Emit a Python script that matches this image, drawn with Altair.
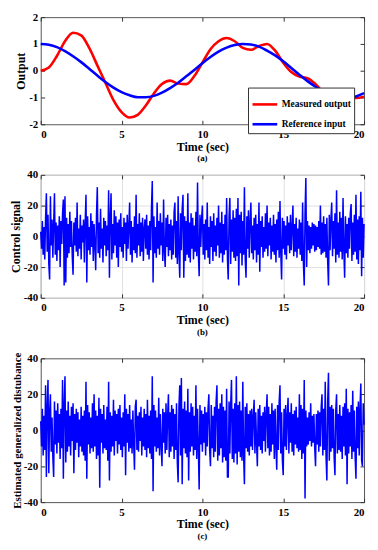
import altair as alt
import pandas as pd

FONT = "Liberation Serif"

# ---------------- Panel (a) data ----------------
time_a = [i * 0.5 for i in range(41)]
measured_output = [0.0, 0.12, 0.55, 1.1, 1.42, 1.32, 0.85, 0.2, -0.45, -1.1,
                   -1.55, -1.75, -1.65, -1.3, -0.85, -0.5, -0.37, -0.48, -0.5, -0.2,
                   0.3, 0.8, 1.1, 1.22, 1.1, 0.85, 0.78, 0.92, 1.0, 0.75,
                   0.3, -0.05, -0.22, -0.28, -0.5, -0.82, -0.95, -0.95, -0.98, -1.02,
                   -0.97]
reference_input = [1.0, 0.97, 0.88, 0.73, 0.54, 0.32, 0.07, -0.18, -0.42, -0.63,
                   -0.80, -0.92, -0.99, -0.99, -0.94, -0.82, -0.65, -0.45, -0.21, 0.03,
                   0.28, 0.51, 0.71, 0.86, 0.96, 1.0, 0.98, 0.90, 0.75, 0.57,
                   0.35, 0.10, -0.15, -0.39, -0.60, -0.78, -0.91, -0.98, -1.0, -0.96,
                   -0.84]
series_names = ["Measured output", "Reference input"]
series_colors = ["#ff0000", "#0000ff"]

# ---------------- Panels (b), (c) data ----------------
time_n = [round(i * 0.05, 2) for i in range(401)]
control_signal = [
    3, -8, 10, -12, 6, -15, 12, 28, -10, 14, -18, -28, 26, -6, 11, -14, 8, 28, -12, 9,
    -16, 7, -9, 13, -20, 10, -5, 15, 24, -32, 26, -30, 12, -14, 8, -11, 16, -7, 10, -13,
    -25, 9, -6, 12, -10, 22, -13, 5, -8, 14, -15, 7, -4, 11, -17, 9, 27, -30, 13, -9,
    6, -12, 15, -7, 10, -16, 8, -5, -22, 14, 32, -11, 9, -14, 18, -8, 5, -17, 12, -6,
    10, -13, 7, -9, 30, -27, 12, 28, -15, 8, -11, 17, -6, 13, -14, 9, -20, 11, -7, 15,
    -10, 6, -14, 12, -5, 9, -16, 14, -8, 7, 22, -12, 10, -17, 6, -9, 13, -11, 27, -14,
    8, -6, 15, -13, 9, -10, 12, -16, 5, 11, -8, 14, -12, 7, -15, 10, -9, 18, 36, -30,
    13, -11, 6, -14, 22, -8, 10, -12, 15, -6, 9, -16, 24, -10, -20, 12, -7, 14, -13, 8,
    -9, 11, -15, 7, -12, 16, 22, -14, 10, -18, 26, -11, -27, 15, -9, 18, 27, -27, 13, -16,
    10, -12, 28, -14, 9, -17, 15, -8, 12, -15, 7, -10, 16, -13, 35, -11, -26, 14, -7, 11,
    20, -12, 8, -15, 11, -9, 22, -14, 6, -18, 13, -7, 10, -16, 15, -10, 7, -13, 12, -6,
    20, -14, 9, -11, 16, -17, 8, -12, 14, -9, 25, -15, -28, 13, 25, -18, 11, -10, 17, -14,
    12, -16, 18, -13, 25, -32, 14, -11, 16, -19, 10, -12, 32, -15, -27, 13, -8, 17, -14, 9,
    22, -11, 7, -15, 12, -9, 14, -17, 8, -12, 22, -23, 10, -7, 13, -14, 6, -10, 15, -8,
    20, -13, 9, -6, 12, -15, 7, -10, 14, -12, 8, -17, 11, -9, 16, -14, 23, -11, -28, 12,
    -8, 10, -12, 7, -15, 13, -6, 9, -11, 14, -9, 6, 20, -13, 8, -10, 12, -14, 5, -8,
    11, -12, 9, -16, 22, -18, -32, 15, 38, -20, 10, -9, 7, -11, 6, -8, 9, -6, 8, -10,
    7, -9, 6, -7, 10, -8, 20, -12, 9, -11, 13, -10, 8, -14, 12, -16, -32, 14, -9, 11,
    22, -13, 10, -8, 15, -17, 30, -12, 9, -14, 16, -10, 12, -15, 25, -9, -27, 13, -11, 8,
    -14, 12, -8, 15, 21, -16, 9, -12, 14, -10, 27, -15, 11, -18, 13, -9, 29, -26, 12, -14,
    8]
disturbance = [
    5, -9, 12, -14, 8, -11, 25, -26, 13, 28, -24, 10, 20, -12, 7, -15, -26, 16, -8, 11,
    -13, 15, -7, 9, -16, 12, -10, 28, -27, 14, 30, -18, 11, -12, 16, -9, 8, -14, 13, -6,
    15, -24, 9, -11, 12, -7, 10, -15, 6, -9, 13, -12, 8, -14, 11, -17, 27, -27, 14, -8,
    10, -13, 7, -10, 15, -12, 20, -9, 11, -16, 8, -14, 18, -32, 12, -7, 9, -13, 14, -10,
    6, -11, 13, -17, 27, -28, 10, -12, 8, -9, 17, -14, 11, -6, 9, -13, 12, -8, 14, -11,
    7, -15, 10, -9, 20, -25, 12, -7, 9, -12, 14, -10, 6, -13, 11, -8, -22, 13, 17, -11,
    8, -12, 10, -6, 13, -14, 7, -9, 12, -11, 9, -15, 17, -10, 8, -13, 11, -16, 30, -34,
    14, -9, 11, -12, 7, -10, 18, -14, 9, -8, -20, 12, -7, 10, -13, 15, -11, 8, 20, -15,
    10, -12, 14, -9, 12, -16, 9, -11, 15, -18, -29, 13, 25, -14, 29, -30, 12, -10, 16, -13,
    11, -15, 23, -28, 10, -12, 15, -9, 13, -14, 8, -11, 25, -16, 12, -10, -33, 14, -8, 11,
    -12, 9, -7, 13, -14, 10, -9, 12, 20, -11, -20, 14, -10, 8, -15, 13, -12, 16, 25, -17,
    12, -14, 15, -10, 20, -18, 13, -15, 11, -17, 23, -26, -26, 16, -13, 14, 28, -16, 12, -18,
    15, -13, 30, -19, 14, -12, 16, -15, 11, -17, 27, -14, -30, 13, -10, 15, -12, 9, -14, 11,
    -9, 12, -11, 8, 17, -13, 10, -7, -20, 12, -9, 14, -11, 8, -13, 10, -6, 13, -12, 9,
    20, -10, 13, -14, 9, -12, 15, -8, 11, -16, 12, -9, -22, 14, -11, 16, 25, -13, 10, -17,
    -25, 12, -9, 14, -11, 8, 18, -13, 10, -7, 15, -12, 9, -14, 11, -8, 13, -10, 7, -12,
    20, -11, 14, -16, 12, -13, 28, -38, 11, -9, 7, -8, 10, -6, 15, -9, 8, -7, 9, -10,
    -20, 9, -8, 11, -12, 10, -9, 13, 20, -14, 12, -11, 27, -15, -28, 16, 32, -17, 13, -12,
    14, -10, 12, -15, -25, 11, 20, -13, 9, -11, 14, -12, 8, -16, 13, -9, 15, -14, 23, -30,
    12, -13, 10, -9, 14, -16, 22, -12, 11, -15, -27, 13, -10, 16, -14, 12, 26, -17, -20, 15,
    3]

X_TICKS = [0, 5, 10, 15, 20]
W = 326


def x_axis(grid=False, mirror=False):
    if mirror:
        return alt.Axis(orient="top", values=X_TICKS, labels=False, title=None,
                        offset=-4, tickSize=4, domain=False, grid=False,
                        minExtent=0, maxExtent=0)
    return alt.Axis(values=X_TICKS, title="Time (sec)", offset=-4, tickSize=4,
                    domain=False, grid=grid, labelPadding=4, labelExpr="datum.value",
                    minExtent=0)


def y_axis(vals, title, grid=False, mirror=False, title_size=12):
    if mirror:
        return alt.Axis(orient="right", values=vals, labels=False, title=None,
                        offset=-4, tickSize=4, domain=False, grid=False,
                        minExtent=0, maxExtent=0)
    return alt.Axis(values=vals, title=title, offset=-4, tickSize=4, domain=False,
                    grid=grid, labelPadding=3, labelExpr="datum.value",
                    titleFontSize=title_size, minExtent=0, titlePadding=1)


# Panel (a)
H_A = 108
rows = []
for t, m, r in zip(time_a, measured_output, reference_input):
    rows.append({"t": t, "v": m, "s": series_names[0]})
    rows.append({"t": t, "v": r, "s": series_names[1]})
df_a = pd.DataFrame(rows)
xs_a = alt.Scale(domain=[0, 20], nice=False)
ys_a = alt.Scale(domain=[-2, 2], nice=False)
a_vals = [-2, -1, 0, 1, 2]
a_line = alt.Chart(df_a).mark_line(strokeWidth=2.6, interpolate="monotone").encode(
    x=alt.X("t:Q", scale=xs_a, axis=x_axis()),
    y=alt.Y("v:Q", scale=ys_a, axis=y_axis(a_vals, "Output")),
    color=alt.Color("s:N", scale=alt.Scale(domain=series_names, range=series_colors),
                    legend=alt.Legend(title=None, orient="none", legendX=W - 117,
                                      legendY=H_A - 37,
                                      fillColor="white", strokeColor="#333",
                                      padding=3, rowPadding=0, symbolType="stroke",
                                      symbolStrokeWidth=2.6, symbolSize=620,
                                      labelFont=FONT, labelFontWeight="bold",
                                      labelFontSize=9.5, labelColor="black",
                                      labelOffset=3)),
)
a_mirror = alt.Chart(df_a).mark_line(opacity=0).encode(
    x=alt.X("t:Q", scale=xs_a, axis=x_axis(mirror=True)),
    y=alt.Y("v:Q", scale=ys_a, axis=y_axis(a_vals, None, mirror=True)),
)
panel_a = alt.layer(a_line, a_mirror).resolve_axis(x="independent", y="independent").properties(
    width=W, height=H_A,
    title=alt.TitleParams("(a)", orient="bottom", font=FONT, fontSize=9,
                          fontWeight="bold", offset=2))


def noise_panel(values, ytitle, height, caption, grid, title_size=12):
    df = pd.DataFrame({"t": time_n, "v": values})
    xs = alt.Scale(domain=[0, 20], nice=False)
    ys = alt.Scale(domain=[-40, 40], nice=False)
    vals = [-40, -20, 0, 20, 40]
    line = alt.Chart(df).mark_line(color="#0000ff", strokeWidth=1.5).encode(
        x=alt.X("t:Q", scale=xs, axis=x_axis(grid=grid)),
        y=alt.Y("v:Q", scale=ys, axis=y_axis(vals, ytitle, grid=grid, title_size=title_size)),
    )
    mirror = alt.Chart(df).mark_line(opacity=0).encode(
        x=alt.X("t:Q", scale=xs, axis=x_axis(mirror=True)),
        y=alt.Y("v:Q", scale=ys, axis=y_axis(vals, None, mirror=True)),
    )
    return alt.layer(line, mirror).resolve_axis(x="independent", y="independent").properties(
        width=W, height=height,
        title=alt.TitleParams(caption, orient="bottom", font=FONT, fontSize=9,
                              fontWeight="bold", offset=2))


panel_b = noise_panel(control_signal, "Control signal", 124, "(b)", True)
panel_c = noise_panel(disturbance, "Estimated generalized distubance", 145, "(c)", False,
                      title_size=11)

top = alt.vconcat(panel_a, panel_b, spacing=4).resolve_legend(color="independent")
chart = alt.vconcat(top, panel_c, spacing=14).resolve_legend(
    color="independent"
).properties(
    padding={"left": 0, "top": 0, "right": 0, "bottom": 0}
).configure_view(stroke="#555555", strokeWidth=1).configure_axis(
    labelFont=FONT, labelFontWeight="bold", labelFontSize=11, labelColor="black",
    titleFont=FONT, titleFontWeight="bold", titleFontSize=12, titleColor="black",
    tickColor="#333333", gridColor="#e0e0e0", titlePadding=2,
).configure_title(color="black")

chart.save("out.html", embed_options={"renderer": "svg", "actions": False})
